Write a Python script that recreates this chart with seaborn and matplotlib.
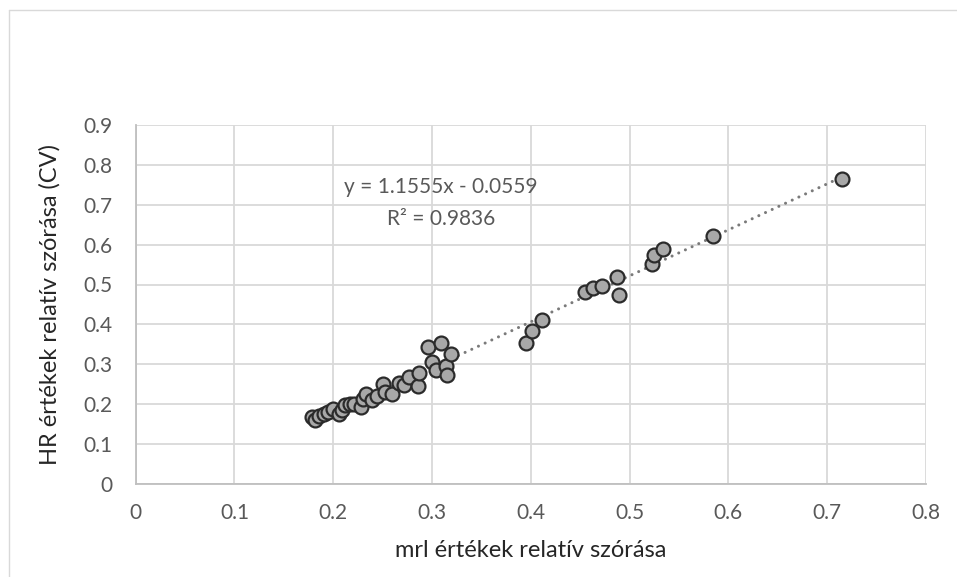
import matplotlib
matplotlib.use("Agg")
import matplotlib.pyplot as plt
import seaborn as sns
import pandas as pd
from matplotlib.lines import Line2D

# Relative spread (CV) of mrl values vs. HR values
mrl_cv = [0.178, 0.1815, 0.186, 0.1905, 0.195, 0.200, 0.206, 0.2085, 0.212, 0.217,
          0.2205, 0.228, 0.2305, 0.2335, 0.2395, 0.244, 0.250, 0.252, 0.259, 0.267,
          0.272, 0.2765, 0.286, 0.287, 0.296, 0.2995, 0.3035, 0.3095, 0.3145, 0.315,
          0.3195, 0.3955, 0.4015, 0.411, 0.455, 0.463, 0.472, 0.487, 0.4895, 0.5225,
          0.525, 0.534, 0.584, 0.715]
hr_cv = [0.167, 0.160, 0.169, 0.175, 0.1795, 0.188, 0.175, 0.1835, 0.196, 0.2005,
         0.199, 0.192, 0.213, 0.2255, 0.2105, 0.221, 0.250, 0.2295, 0.2255, 0.252,
         0.2465, 0.267, 0.244, 0.277, 0.343, 0.305, 0.2855, 0.3525, 0.294, 0.273,
         0.325, 0.352, 0.384, 0.411, 0.480, 0.490, 0.497, 0.5195, 0.4735, 0.552,
         0.573, 0.589, 0.621, 0.765]

# Linear trend line coefficients and fit quality
slope = 1.1555
intercept = -0.0559
r_squared = 0.9836

x_ticks = [0, 0.1, 0.2, 0.3, 0.4, 0.5, 0.6, 0.7, 0.8]
y_ticks = [0, 0.1, 0.2, 0.3, 0.4, 0.5, 0.6, 0.7, 0.8, 0.9]

x_label = "mrl értékek relatív szórása"
y_label = "HR értékek relatív szórása (CV)"

df = pd.DataFrame({"mrl": mrl_cv, "hr": hr_cv})

sns.set_style("white")
plt.rcParams["font.family"] = ["Lato", "DejaVu Sans"]

W, H = 957, 577
fig = plt.figure(figsize=(W / 100, H / 100), dpi=100)
ax = fig.add_axes([135.7 / W, 1 - 483.5 / H, (926 - 135.7) / W, (483.5 - 125.3) / H])

# Outer chart frame (left and top edges visible)
fig.add_artist(Line2D([9 / W, 9 / W], [0, 1 - 10 / H], transform=fig.transFigure,
                      color="#d9d9d9", lw=1.0))
fig.add_artist(Line2D([9 / W, 1], [1 - 10 / H, 1 - 10 / H], transform=fig.transFigure,
                      color="#d9d9d9", lw=1.0))

# Trend line across the data range
x0, x1 = min(mrl_cv), max(mrl_cv)
trend = pd.DataFrame({"mrl": [x0, x1], "hr": [slope * x0 + intercept, slope * x1 + intercept]})
ax.plot(trend["mrl"], trend["hr"], color="#7a7a7a", lw=2.2,
        linestyle=(0, (0.01, 2.4)), dash_capstyle="round", zorder=2)

sns.scatterplot(data=df, x="mrl", y="hr", ax=ax, s=100, color="#a8a8a8",
                edgecolor="#2b2b2b", linewidth=1.6, zorder=3)

ax.set_xlim(0, 0.8)
ax.set_ylim(0, 0.9)
ax.set_xticks(x_ticks)
ax.set_yticks(y_ticks)
ax.set_xticklabels([f"{t:g}" for t in x_ticks])
ax.set_yticklabels([f"{t:g}" for t in y_ticks])
ax.tick_params(axis="both", length=0, labelsize=15, labelcolor="#595959")
ax.tick_params(axis="x", pad=14)
ax.tick_params(axis="y", pad=17)

ax.grid(True, color="#d9d9d9", lw=1.3)
ax.set_axisbelow(True)
for side in ["top", "right"]:
    ax.spines[side].set_visible(False)
for side in ["left", "bottom"]:
    ax.spines[side].set_color("#bfbfbf")
    ax.spines[side].set_linewidth(1.3)

ax.set_xlabel(x_label, fontsize=17, color="#262626", labelpad=12)
ax.set_ylabel(y_label, fontsize=17, color="#262626", labelpad=16)

ax.text(0.309, 0.746, f"y = {slope:.4f}x - {abs(intercept):.4f}", ha="center", va="center",
        fontsize=15, color="#595959")
ax.text(0.309, 0.664, f"R² = {r_squared:.4f}", ha="center", va="center",
        fontsize=15, color="#595959")

fig.savefig("out.png", dpi=100, facecolor="white")
